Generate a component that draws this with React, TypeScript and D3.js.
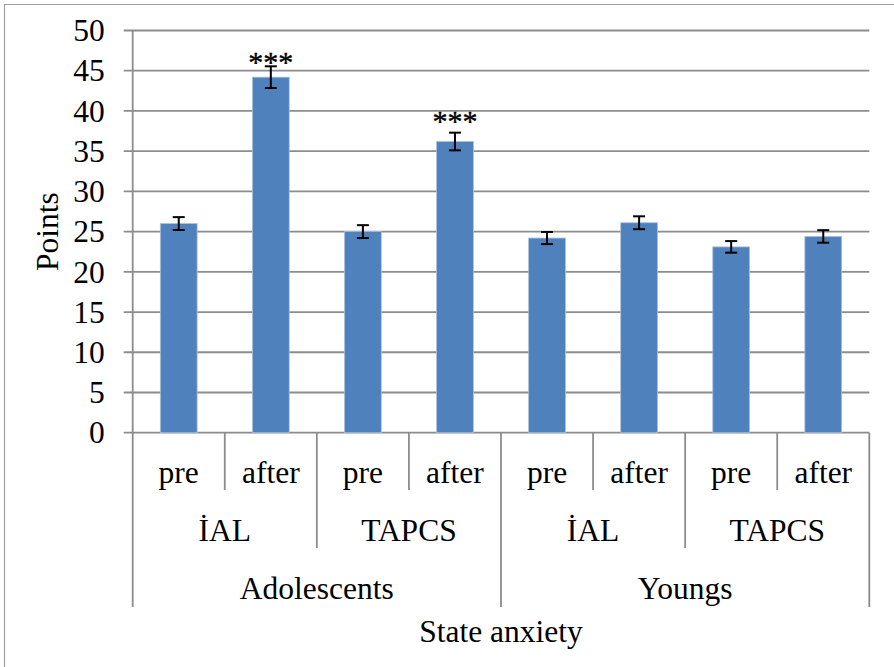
import React, { useEffect, useRef } from 'react'
import { select, scaleBand, scaleLinear, range } from 'd3'

// bar labels, innermost level first
const conditions = ['pre', 'after', 'pre', 'after', 'pre', 'after', 'pre', 'after']
const methods = ['İAL', 'TAPCS', 'İAL', 'TAPCS']
const groups = ['Adolescents', 'Youngs']

// mean points and error (+/-)
const values = [26.0, 44.2, 25.0, 36.2, 24.2, 26.1, 23.1, 24.4]
const errors = [0.8, 1.35, 0.8, 1.1, 0.75, 0.8, 0.72, 0.78]
// significance marks and the level (in points) their centre sits at
const stars = ['', '***', '', '***', '', '', '', '']
const starLevel = [0, 46.9, 0, 39.6, 0, 0, 0, 0]

const yTicks = [0, 5, 10, 15, 20, 25, 30, 35, 40, 45, 50]
const yTitle = 'Points'
const xTitle = 'State anxiety'

const W = 894
const H = 667
const FONT = '"Liberation Serif", "Times New Roman", serif'
const FS = 31.5

export default function App() {
  const ref = useRef<SVGSVGElement>(null)

  useEffect(() => {
    const svg = select(ref.current)
    svg.selectAll('*').remove()

    const left = 132.7
    const right = 869.3
    const top = 30.5
    const bottom = 432.7
    const gridColor = '#8c8c8c'

    const x = scaleBand<number>()
      .domain(range(conditions.length))
      .range([left, right])
      .paddingInner(0.6)
      .paddingOuter(0.3)
    const step = (right - left) / conditions.length

    const y = scaleLinear().domain([0, 50]).range([bottom, top])

    // frame: only left and top edges show
    svg.append('path')
      .attr('d', 'M4.5,' + H + 'V4.5H' + W)
      .attr('fill', 'none')
      .attr('stroke', '#a0a0a0').attr('stroke-width', 1.2)

    // gridlines + ticks
    const g = svg.append('g')
    g.selectAll('line.grid')
      .data(yTicks)
      .enter().append('line')
      .attr('x1', left - 9).attr('x2', right)
      .attr('y1', d => y(d)).attr('y2', d => y(d))
      .attr('stroke', gridColor).attr('stroke-width', 1.8)

    g.selectAll('text.ytick')
      .data(yTicks)
      .enter().append('text')
      .attr('x', left - 28)
      .attr('y', d => y(d))
      .attr('dy', '0.34em')
      .attr('text-anchor', 'end')
      .attr('font-family', FONT).attr('font-size', FS)
      .text(d => d)

    // y axis line
    g.append('line')
      .attr('x1', left).attr('x2', left)
      .attr('y1', top).attr('y2', bottom)
      .attr('stroke', gridColor).attr('stroke-width', 1.8)

    // bars
    g.selectAll('rect.bar')
      .data(values)
      .enter().append('rect')
      .attr('x', (d, i) => x(i) as number)
      .attr('width', x.bandwidth())
      .attr('y', d => y(d))
      .attr('height', d => bottom - y(d))
      .attr('fill', '#4f81bd')
      .attr('stroke', '#a9c1e0').attr('stroke-width', 0.8)

    // error bars
    const eb = g.selectAll('g.err')
      .data(values)
      .enter().append('g')
      .attr('stroke', 'black').attr('stroke-width', 2)
    const cx = (i: number) => (x(i) as number) + x.bandwidth() / 2
    eb.append('line')
      .attr('x1', (d, i) => cx(i)).attr('x2', (d, i) => cx(i))
      .attr('y1', (d, i) => y(d + errors[i])).attr('y2', (d, i) => y(d - errors[i]))
    eb.append('line')
      .attr('x1', (d, i) => cx(i) - 6).attr('x2', (d, i) => cx(i) + 6)
      .attr('y1', (d, i) => y(d + errors[i])).attr('y2', (d, i) => y(d + errors[i]))
    eb.append('line')
      .attr('x1', (d, i) => cx(i) - 6).attr('x2', (d, i) => cx(i) + 6)
      .attr('y1', (d, i) => y(d - errors[i])).attr('y2', (d, i) => y(d - errors[i]))

    // significance stars
    g.selectAll('text.star')
      .data(stars)
      .enter().append('text')
      .attr('x', (d, i) => cx(i))
      .attr('y', (d, i) => y(starLevel[i]) + 17)
      .attr('text-anchor', 'middle')
      .attr('font-family', FONT).attr('font-size', 30)
      .attr('stroke', 'black').attr('stroke-width', 0.4)
      .text(d => d)

    // multi-level category axis
    const row1 = 472, row2 = 530, row3 = 588
    const end1 = 490, end2 = 548, end3 = 607
    range(conditions.length + 1).forEach(i => {
      const xx = left + i * step
      let end = end1
      if (i % 4 === 0) end = end3
      else if (i % 2 === 0) end = end2
      g.append('line')
        .attr('x1', xx).attr('x2', xx)
        .attr('y1', bottom).attr('y2', end)
        .attr('stroke', gridColor).attr('stroke-width', 1.8)
    })

    const label = (txt: string, xx: number, yy: number) =>
      g.append('text')
        .attr('x', xx).attr('y', yy).attr('dy', '0.34em')
        .attr('text-anchor', 'middle')
        .attr('font-family', FONT).attr('font-size', FS)
        .text(txt)

    conditions.forEach((c, i) => label(c, left + (i + 0.5) * step, row1))
    methods.forEach((m, i) => label(m, left + (i + 0.5) * step * 2, row2))
    groups.forEach((gr, i) => label(gr, left + (i + 0.5) * step * 4, row3))
    label(xTitle, (left + right) / 2, 631)

    g.append('text')
      .attr('transform', 'translate(47,' + (top + bottom) / 2 + ') rotate(-90)')
      .attr('dy', '0.34em')
      .attr('text-anchor', 'middle')
      .attr('font-family', FONT).attr('font-size', FS)
      .text(yTitle)
  }, [])

  return (
    <svg
      ref={ref}
      width={W}
      height={H}
      style={{ position: 'absolute', left: 0, top: 0, background: 'white' }}
    />
  )
}
